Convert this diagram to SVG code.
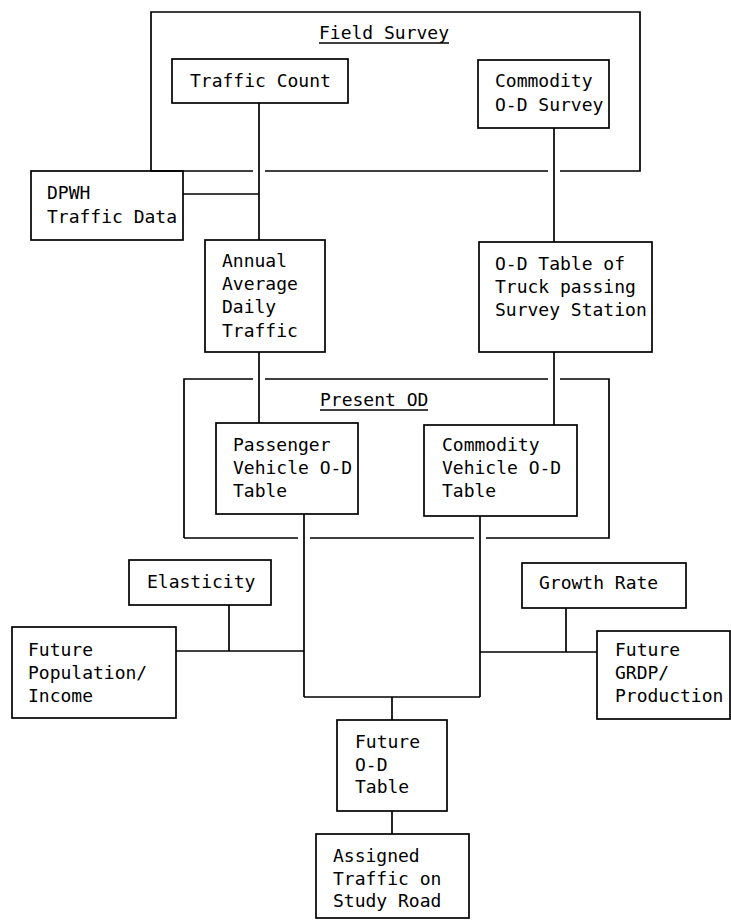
<svg xmlns="http://www.w3.org/2000/svg" width="731" height="921" viewBox="0 0 731 921">
<style>
.box{fill:none;stroke:#000;stroke-width:1.7}
.ln{fill:none;stroke:#000;stroke-width:1.7}
text{font-family:"DejaVu Sans Mono","Liberation Mono",monospace;font-size:18px;fill:#000}
</style>
<rect width="731" height="921" fill="#fff"/>
<g id="field-survey">
<path class="box" d="M151,171 V12 H640 V171 H560 M548,171 H265 M253,171 H151"/>
<text x="319" y="39">Field Survey</text>
<line class="ln" x1="319" y1="43" x2="449" y2="43"/>
</g>
<g id="traffic-count">
<rect class="box" x="172" y="59" width="176" height="44"/>
<text x="190" y="87">Traffic Count</text>
</g>
<g id="commodity-od-survey">
<rect class="box" x="478" y="60" width="131" height="68"/>
<text x="495" y="87">Commodity</text>
<text x="495" y="111">O-D Survey</text>
</g>
<g id="dpwh">
<rect class="box" x="31" y="171" width="152" height="69"/>
<text x="47" y="199">DPWH</text>
<text x="47" y="223">Traffic Data</text>
</g>
<g id="aadt">
<rect class="box" x="205" y="240" width="120" height="112"/>
<text x="222" y="267">Annual</text>
<text x="222" y="290">Average</text>
<text x="222" y="313">Daily</text>
<text x="222" y="337">Traffic</text>
</g>
<g id="od-truck">
<rect class="box" x="479" y="242" width="173" height="110"/>
<text x="495" y="270">O-D Table of</text>
<text x="495" y="293">Truck passing</text>
<text x="495" y="316">Survey Station</text>
</g>
<g id="present-od">
<path class="box" d="M184,538 V379 H253 M265,379 H548 M560,379 H609 V538 H486 M474,538 H310 M298,538 H184"/>
<text x="320" y="406">Present OD</text>
<line class="ln" x1="320" y1="410" x2="428" y2="410"/>
</g>
<g id="passenger-od">
<rect class="box" x="216" y="423" width="142" height="91"/>
<text x="233" y="451">Passenger</text>
<text x="233" y="474">Vehicle O-D</text>
<text x="233" y="497">Table</text>
</g>
<g id="commodity-od">
<rect class="box" x="424" y="425" width="153" height="91"/>
<text x="442" y="451">Commodity</text>
<text x="442" y="474">Vehicle O-D</text>
<text x="442" y="497">Table</text>
</g>
<g id="elasticity">
<rect class="box" x="129" y="560" width="142" height="45"/>
<text x="147" y="588">Elasticity</text>
</g>
<g id="future-population">
<rect class="box" x="12" y="627" width="164" height="91"/>
<text x="28" y="656">Future</text>
<text x="28" y="679">Population/</text>
<text x="28" y="702">Income</text>
</g>
<g id="growth-rate">
<rect class="box" x="522" y="563" width="164" height="45"/>
<text x="539" y="589">Growth Rate</text>
</g>
<g id="future-grdp">
<rect class="box" x="597" y="631" width="133" height="88"/>
<text x="615" y="656">Future</text>
<text x="615" y="679">GRDP/</text>
<text x="615" y="702">Production</text>
</g>
<g id="future-od">
<rect class="box" x="337" y="720" width="110" height="91"/>
<text x="355" y="748">Future</text>
<text x="355" y="771">O-D</text>
<text x="355" y="793">Table</text>
</g>
<g id="assigned">
<rect class="box" x="316" y="834" width="153" height="84"/>
<text x="333" y="862">Assigned</text>
<text x="333" y="885">Traffic on</text>
<text x="333" y="907">Study Road</text>
</g>
<g id="connectors">
<line class="ln" x1="259" y1="103" x2="259" y2="240"/>
<line class="ln" x1="183" y1="194" x2="259" y2="194"/>
<line class="ln" x1="554" y1="128" x2="554" y2="242"/>
<line class="ln" x1="259" y1="352" x2="259" y2="423"/>
<line class="ln" x1="554" y1="352" x2="554" y2="425"/>
<line class="ln" x1="304" y1="514" x2="304" y2="697"/>
<line class="ln" x1="480" y1="516" x2="480" y2="697"/>
<line class="ln" x1="304" y1="697" x2="480" y2="697"/>
<line class="ln" x1="392" y1="697" x2="392" y2="720"/>
<line class="ln" x1="229" y1="605" x2="229" y2="651"/>
<line class="ln" x1="176" y1="651" x2="304" y2="651"/>
<line class="ln" x1="566" y1="608" x2="566" y2="652"/>
<line class="ln" x1="480" y1="652" x2="597" y2="652"/>
<line class="ln" x1="392" y1="811" x2="392" y2="834"/>
</g>
</svg>
